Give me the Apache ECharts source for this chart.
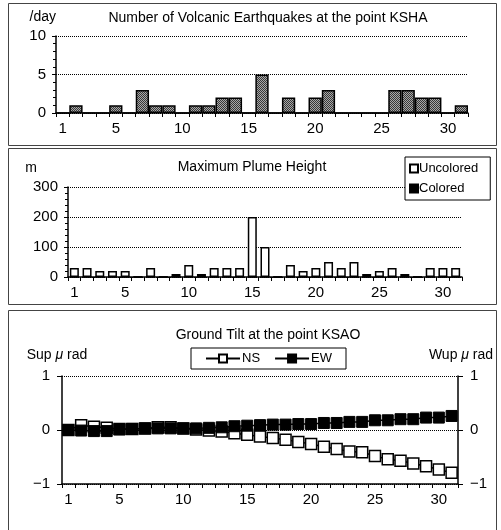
<!DOCTYPE html>
<html>
<head>
<meta charset="utf-8">
<script src="https://cdn.jsdelivr.net/npm/echarts@6/dist/echarts.min.js"></script>
<style>
html, body { margin: 0; padding: 0; background: #fff; }
#main { width: 501px; height: 530px; }
</style>
</head>
<body>
<div id="main"></div>
<script>
// 日付（1日〜31日）
const days = ['1','2','3','4','5','6','7','8','9','10','11','12','13','14','15','16',
              '17','18','19','20','21','22','23','24','25','26','27','28','29','30','31'];

// 火山性地震回数 /day
const quakeCounts = [0,1,0,0,1,0,3,1,1,0,1,1,2,2,0,5,0,2,0,2,3,0,0,0,0,3,3,2,2,0,1];

// 最高噴煙高度 m
const plumeUncolored = [30,30,20,20,20,0,30,0,10,40,10,30,30,30,200,100,0,40,20,30,50,30,50,10,20,30,10,0,30,30,30];
const plumeColored   = [0,0,0,0,0,0,0,0,0,0,0,0,0,0,0,0,0,0,0,0,0,0,0,0,0,0,0,0,0,0,0];

// 傾斜計 μrad
const tiltNS = [0.00,0.09,0.06,0.04,0.02,0.02,0.03,0.05,0.05,0.03,0.01,-0.01,-0.03,-0.06,-0.09,-0.12,
                -0.15,-0.18,-0.22,-0.26,-0.31,-0.35,-0.40,-0.41,-0.48,-0.54,-0.57,-0.62,-0.67,-0.73,-0.79];
const tiltEW = [0.00,-0.01,-0.02,-0.02,0.01,0.02,0.03,0.03,0.03,0.03,0.03,0.04,0.05,0.07,0.08,0.09,
                0.10,0.10,0.11,0.11,0.13,0.13,0.15,0.15,0.18,0.18,0.20,0.20,0.23,0.23,0.26];

const FONT = 'Liberation Sans';

// 網掛けパターン
function makePattern() {
    const c = document.createElement('canvas');
    c.width = 2; c.height = 2;
    const ctx = c.getContext('2d');
    ctx.fillStyle = '#a8a8a8';
    ctx.fillRect(0, 0, 2, 2);
    ctx.fillStyle = '#383838';
    ctx.fillRect(0, 0, 1, 1);
    ctx.fillRect(1, 1, 1, 1);
    return c;
}

// 1, 5, 10, 15 ... だけ表示
function dayLabel(i, v) {
    const d = Number(v);
    return d === 1 || d % 5 === 0;
}

function minusFmt(v) {
    return v < 0 ? '\u2212' + Math.abs(v) : String(v);
}

function xAxisOf(gridIndex) {
    return {
        type: 'category', gridIndex: gridIndex, data: days,
        axisLine: { onZero: false, lineStyle: { color: '#000', width: 1.5 } },
        axisTick: { show: true, interval: 0, length: 4, lineStyle: { color: '#000' } },
        axisLabel: { interval: dayLabel, color: '#000', fontSize: 15, fontFamily: FONT, margin: 8 },
        splitLine: { show: false }
    };
}

const dotted = { show: true, lineStyle: { color: '#000', type: [1, 1], width: 1 } };

const chart = echarts.init(document.getElementById('main'));
chart.setOption({
    animation: false,
    textStyle: { fontFamily: FONT, color: '#000' },
    grid: [
        { left: 56, right: 33, top: 36, height: 77, outerBoundsMode: 'none' },
        { left: 68, right: 39, top: 187, height: 90, outerBoundsMode: 'none' },
        { left: 62, right: 43, top: 376, height: 108, outerBoundsMode: 'none' }
    ],
    legend: [
        {
            data: ['Uncolored', 'Colored'], orient: 'vertical',
            left: 405, top: 157, icon: 'rect', itemWidth: 8, itemHeight: 8, itemGap: 7,
            backgroundColor: '#fff', borderColor: '#000', borderWidth: 1, padding: [5, 12, 5, 4],
            textStyle: { fontSize: 13, color: '#000', fontFamily: FONT, padding: [0, 0, 0, -4] }
        },
        {
            data: ['NS', 'EW'], orient: 'horizontal',
            left: 191, top: 348, itemWidth: 34, itemHeight: 10, itemGap: 14,
            backgroundColor: '#fff', borderColor: '#000', borderWidth: 1, padding: [4, 14, 4, 14],
            textStyle: { fontSize: 13, color: '#000', fontFamily: FONT, padding: [0, 0, 0, -3] }
        }
    ],
    xAxis: [xAxisOf(0), xAxisOf(1), xAxisOf(2)],
    yAxis: [
        {
            type: 'value', gridIndex: 0, min: 0, max: 10, interval: 5,
            name: '/day', nameLocation: 'end', nameGap: 12,
            nameTextStyle: { fontSize: 14, color: '#000', align: 'right' },
            axisLine: { show: true, lineStyle: { color: '#000', width: 1.5 } },
            axisTick: { show: true, length: 4, lineStyle: { color: '#000' } },
            minorTick: { show: true, splitNumber: 5, length: 3, lineStyle: { color: '#000' } },
            axisLabel: { color: '#000', fontSize: 15, margin: 10 },
            splitLine: dotted
        },
        {
            type: 'value', gridIndex: 1, min: 0, max: 300, interval: 100,
            name: 'm', nameLocation: 'end', nameGap: 12,
            nameTextStyle: { fontSize: 14, color: '#000', align: 'right', padding: [0, 31, 0, 0] },
            axisLine: { show: true, lineStyle: { color: '#000', width: 1.5 } },
            axisTick: { show: true, length: 4, lineStyle: { color: '#000' } },
            minorTick: { show: true, splitNumber: 5, length: 3, lineStyle: { color: '#000' } },
            axisLabel: { color: '#000', fontSize: 15, margin: 10 },
            splitLine: dotted
        },
        {
            type: 'value', gridIndex: 2, min: -1, max: 1, interval: 1,
            name: 'Sup {i|μ} rad', nameLocation: 'end', nameGap: 14,
            nameTextStyle: { fontSize: 14, color: '#000', align: 'center', padding: [0, 10, 0, 0],
                rich: { i: { fontStyle: 'italic', fontSize: 14 } } },
            axisLine: { show: true, onZero: false, lineStyle: { color: '#000', width: 1.5 } },
            axisTick: { show: true, length: 5, lineStyle: { color: '#000' } },
            axisLabel: { color: '#000', fontSize: 15, margin: 12, formatter: minusFmt },
            splitLine: dotted
        },
        {
            type: 'value', gridIndex: 2, position: 'right', min: -1, max: 1, interval: 1,
            name: 'Wup {i|μ} rad', nameLocation: 'end', nameGap: 14,
            nameTextStyle: { fontSize: 14, color: '#000', align: 'center', padding: [0, 0, 0, 6],
                rich: { i: { fontStyle: 'italic', fontSize: 14 } } },
            axisLine: { show: true, onZero: false, lineStyle: { color: '#000', width: 1.5 } },
            axisTick: { show: true, length: 5, lineStyle: { color: '#000' } },
            axisLabel: { color: '#000', fontSize: 15, margin: 12, formatter: minusFmt },
            splitLine: { show: false }
        }
    ],
    series: [
        {
            name: 'Earthquakes', type: 'bar', xAxisIndex: 0, yAxisIndex: 0,
            data: quakeCounts, barCategoryGap: '0%',
            itemStyle: { color: { image: makePattern(), repeat: 'repeat' }, borderColor: '#000', borderWidth: 1.5 }
        },
        {
            name: 'Uncolored', type: 'bar', xAxisIndex: 1, yAxisIndex: 1,
            data: plumeUncolored, barWidth: 9, barGap: '-100%',
            itemStyle: { color: '#fff', borderColor: '#000', borderWidth: 1.5 }
        },
        {
            name: 'Colored', type: 'bar', xAxisIndex: 1, yAxisIndex: 1,
            data: plumeColored, barWidth: 9, barGap: '-100%',
            itemStyle: { color: '#000', borderColor: '#000', borderWidth: 1 }
        },
        {
            name: 'NS', type: 'line', xAxisIndex: 2, yAxisIndex: 2,
            data: tiltNS, symbol: 'rect', symbolSize: 11, showAllSymbol: true,
            lineStyle: { color: '#000', width: 1.5 },
            itemStyle: { color: '#fff', borderColor: '#000', borderWidth: 1.5 }
        },
        {
            name: 'EW', type: 'line', xAxisIndex: 2, yAxisIndex: 2,
            data: tiltEW, symbol: 'rect', symbolSize: 11, showAllSymbol: true,
            lineStyle: { color: '#000', width: 1.5 },
            itemStyle: { color: '#000', borderColor: '#000', borderWidth: 1 }
        }
    ],
    graphic: [
        // 枠線
        { type: 'rect', shape: { x: 8.5, y: 3.5, width: 488, height: 142 }, style: { fill: 'none', stroke: '#444', lineWidth: 1 }, z: -1 },
        { type: 'rect', shape: { x: 8.5, y: 148.5, width: 488, height: 156 }, style: { fill: 'none', stroke: '#444', lineWidth: 1 }, z: -1 },
        { type: 'rect', shape: { x: 8.5, y: 310.5, width: 488, height: 240 }, style: { fill: 'none', stroke: '#444', lineWidth: 1 }, z: -1 },
        // タイトル
        { type: 'text', x: 268, y: 18, style: { text: 'Number of Volcanic Earthquakes at the point KSHA', font: '14px ' + FONT, fill: '#000', align: 'center', verticalAlign: 'middle' } },
        { type: 'text', x: 252, y: 167, style: { text: 'Maximum Plume Height', font: '14px ' + FONT, fill: '#000', align: 'center', verticalAlign: 'middle' } },
        { type: 'text', x: 268, y: 335, style: { text: 'Ground Tilt at the point KSAO', font: '14px ' + FONT, fill: '#000', align: 'center', verticalAlign: 'middle' } }
    ]
});
</script>
</body>
</html>
